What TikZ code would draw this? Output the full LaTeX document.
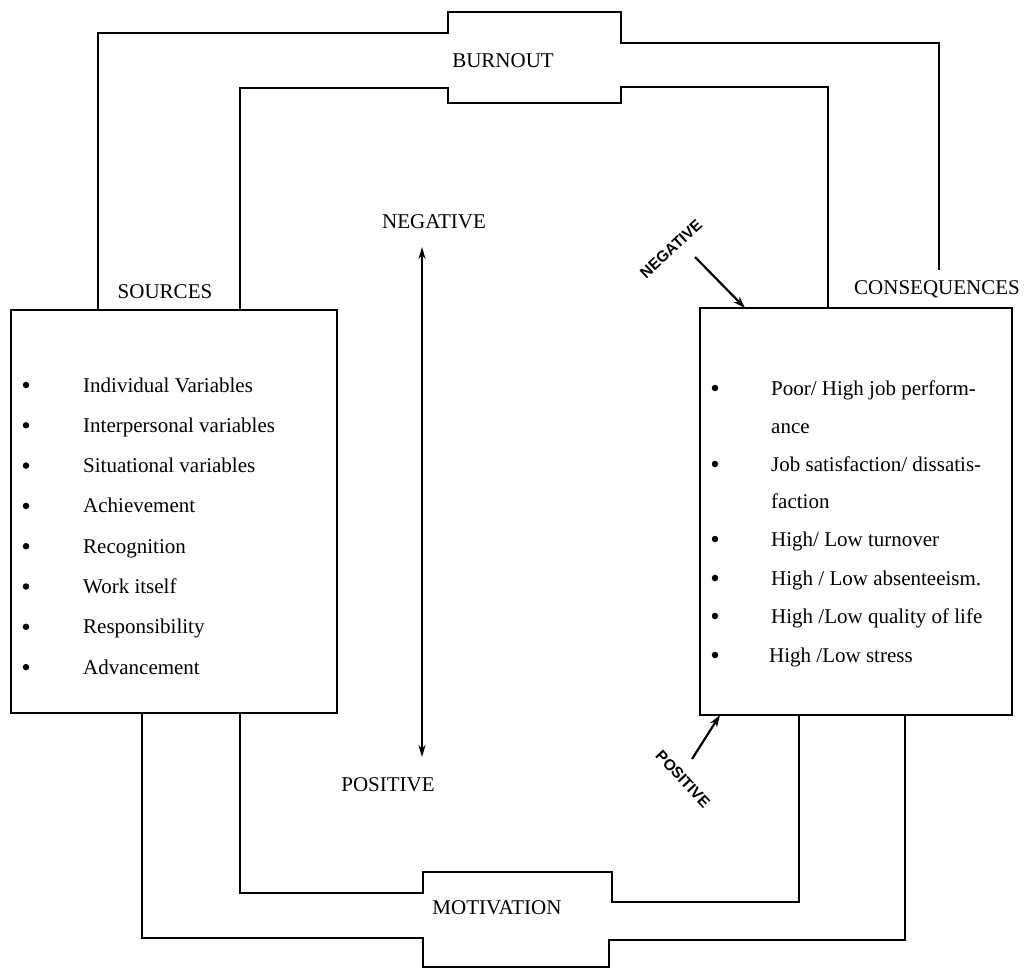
\documentclass[tikz,border=0pt]{standalone}
\usepackage{fontspec}
\setmainfont{Liberation Serif}
\newfontfamily\diagfont{Liberation Sans}
\usetikzlibrary{arrows.meta}
\begin{document}
\begin{tikzpicture}[x=1pt,y=-1pt,
  panel/.style={draw, line width=2.8pt, rectangle, inner sep=0pt, outer sep=0pt},
  loopline/.style={line width=1.6pt, line join=miter},
  heading/.style={font=\fontsize{21}{25}\selectfont, inner sep=0pt},
  item/.style={font=\fontsize{21}{25}\selectfont, anchor=base west, inner sep=0pt},
  dot/.style={circle, fill, inner sep=0pt, minimum size=6.5pt},
  slant/.style={font=\diagfont\bfseries\fontsize{15.5}{19}\selectfont, inner sep=0pt},
  arr/.style={line width=2.2pt, -{Stealth[length=12pt,width=8pt]}},
  dblarr/.style={line width=2pt, {Stealth[length=12pt,width=7pt]}-{Stealth[length=12pt,width=7pt]}},
]
\useasboundingbox (0,0) rectangle (1032,971);

% the two boxes
\node[panel, minimum width=326pt, minimum height=403pt, anchor=north west] (src) at (11,310) {};
\node[panel, minimum width=312pt, minimum height=407pt, anchor=north west] (cons) at (700,308) {};

% box titles
\node[heading] (srct) at (165,292) {SOURCES};
\node[heading] (const) at (937,289) {CONSEQUENCES};

% sources list
\foreach \t [count=\i from 0] in {Individual Variables, Interpersonal variables,
    Situational variables, Achievement, Recognition, Work itself,
    Responsibility, Advancement} {
  \node[item] (s\i) at (83,{392+40.3*\i}) {\t};
  \node[dot] (sd\i) at (26,{385+40.3*\i}) {};
}

% consequences list
\node[item] (c0) at (771,395) {Poor/ High job perform-};
\node[item] (c1) at (771,433) {ance};
\node[item] (c2) at (771,471) {Job satisfaction/ dissatis-};
\node[item] (c3) at (771,508) {faction};
\node[item] (c4) at (771,546) {High/ Low turnover};
\node[item] (c5) at (771,585) {High / Low absenteeism.};
\node[item] (c6) at (771,623) {High /Low quality of life};
\node[item] (c7) at (769,662) {High /Low stress};
\foreach \i in {0,2,4,5,6,7} {
  \node[dot] (cd\i) at (715,0 |- c\i.base) [yshift=7pt] {};
}

% burnout loop (top)
\node[heading] (burn) at (503,61) {BURNOUT};
\coordinate (outend) at (939,270);
\draw[loopline] (98,0 |- src.north) -- (98,33) -- (448,33) -- (448,12)
  -- (621,12) -- (621,43) -- (939,43) -- (outend);
\draw[loopline] (240,0 |- src.north) -- (240,88) -- (448,88) -- (448,103)
  -- (621,103) -- (621,87) -- (828,87) -- (828,0 |- cons.north);

% motivation loop (bottom)
\node[heading] (moti) at (497,908) {MOTIVATION};
\draw[loopline] (240,0 |- src.south) -- (240,893) -- (423,893) -- (423,872)
  -- (612,872) -- (612,902) -- (799,902) -- (799,0 |- cons.south);
\draw[loopline] (142,0 |- src.south) -- (142,938) -- (423,938) -- (423,967)
  -- (609,967) -- (609,940) -- (905,940) -- (905,0 |- cons.south);

% negative / positive scale
\node[heading] (neg) at (434,222) {NEGATIVE};
\node[heading] (pos) at (388,785) {POSITIVE};
\coordinate (vtop) at (422,247);
\coordinate (vbot) at (422,757);
\draw[dblarr] (vtop) -- (vbot);

% slanted labels with arrows into the consequences box
\node[slant, rotate=43] (negd) at (671,249) {NEGATIVE};
\node[slant, rotate=-47] (posd) at (683,779) {POSITIVE};
\coordinate (negtail) at (695,257);
\coordinate (postail) at (692,759);
\draw[arr] (negtail) -- (745,0 |- cons.north);
\draw[arr] (postail) -- (720,0 |- cons.south);
\end{tikzpicture}
\end{document}
